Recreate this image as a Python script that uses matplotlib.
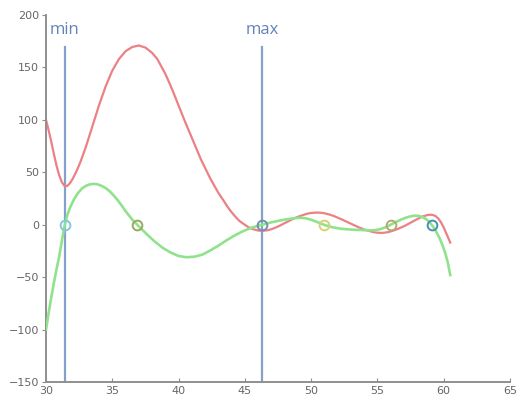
import matplotlib
matplotlib.use("Agg")
import matplotlib.pyplot as plt

# Red curve (function)
red_x = [30.0, 30.2, 30.4, 30.6, 30.8, 31.0, 31.2, 31.4, 31.6, 31.8, 32.0, 32.3,
         32.6, 33.0, 33.5, 34.0, 34.5, 35.0, 35.5, 36.0, 36.5, 37.0, 37.5, 38.0,
         38.4, 38.7, 39.0, 39.3, 39.6, 39.9, 40.5, 41.1, 41.7, 42.4, 43.0, 43.4,
         43.7, 44.0, 44.3, 44.6, 45.0, 45.3, 45.6, 46.0, 46.3, 46.7, 47.0, 47.4,
         47.7, 48.0, 48.4, 48.7, 49.0, 49.4, 49.7, 50.0, 50.4, 50.7, 51.0, 51.4,
         51.7, 52.0, 52.4, 52.7, 53.0, 53.4, 53.7, 54.0, 54.4, 54.7, 55.0, 55.3,
         55.6, 55.9, 56.2, 56.5, 56.8, 57.1, 57.4, 57.7, 58.0, 58.3, 58.5, 58.8,
         59.0, 59.2, 59.4, 59.6, 59.8, 60.0, 60.2, 60.35, 60.5]
red_y = [100, 90, 79, 67, 56, 47, 40.5, 37, 37, 39.5, 43.5, 51,
         60, 74, 94, 114, 132, 147, 158, 165.5, 169.5, 171, 169, 164,
         158, 151, 144, 135.5, 126.5, 117, 98, 80, 62, 44, 30.5, 23,
         17, 12, 7.5, 3.5, 0, -2.5, -4.2, -5.5, -5.8, -5.3, -4.3, -2.3,
         -0.5, 1.5, 4, 6, 7.5, 9.3, 10.5, 11.2, 11.6, 11.5, 11, 9.7,
         8.4, 6.8, 4.6, 2.8, 1, -1.3, -3, -4.5, -6, -7, -7.6, -7.8,
         -7.5, -6.8, -5.6, -4.2, -2.6, -0.9, 1.2, 3.3, 5.3, 7.2, 8.2, 9.3,
         9.6, 9.3, 8.2, 5.9, 2.4, -2.4, -8.2, -12.5, -17]

# Green curve (derivative)
green_x = [30.0, 30.2, 30.4, 30.6, 30.8, 31.0, 31.2, 31.4, 31.6, 31.8, 32.1, 32.4,
           32.7, 33.0, 33.3, 33.6, 33.9, 34.2, 34.5, 34.8, 35.1, 35.4, 35.7, 36.0,
           36.5, 37.0, 37.6, 38.2, 38.8, 39.4, 40.0, 40.6, 41.2, 41.8, 42.4, 43.0,
           43.6, 44.2, 44.8, 45.5, 46.3, 47.0, 47.6, 48.2, 48.8, 49.2, 49.6, 50.0,
           50.5, 51.0, 51.6, 52.3, 53.0, 53.7, 54.4, 54.8, 55.2, 55.6, 56.0, 56.4,
           56.8, 57.2, 57.5, 57.8, 58.1, 58.4, 58.7, 58.9, 59.1, 59.3, 59.5, 59.7,
           59.9, 60.1, 60.3, 60.5]
green_y = [-100, -84, -69, -55, -42, -30, -15, -1, 9, 16, 24, 30,
           34.5, 37, 38.5, 39, 38.5, 37, 35, 32, 28, 23.5, 18.5, 13,
           5, -1.5, -9, -16, -22, -26.5, -29.8, -31, -30.5, -28.5, -24.5, -20,
           -15, -10.5, -6.5, -2.8, 0, 2.3, 3.9, 5.3, 6.3, 6.6, 6.2, 4.8,
           2.4, -0.2, -2.4, -3.9, -4.6, -5, -5.4, -5.2, -4.3, -2.5, 0, 2.6,
           5, 6.9, 8, 8.6, 8.5, 7.4, 5.2, 3, 0, -3.5, -8, -13,
           -19, -26, -35, -48]

# Zero markers
zero_x = [31.4, 36.9, 46.3, 51.0, 56.0, 59.1]
zero_y = [0, 0, 0, 0, 0, 0]
zero_colors = ["#80c8de", "#9aa860", "#7090b0", "#d9d274", "#b3aa72", "#4691b0"]

# Extremum lines
ext_x = [31.4, 46.3]
ext_labels = ["min", "max"]

xticks = [30, 35, 40, 45, 50, 55, 60, 65]
yticks = [-150, -100, -50, 0, 50, 100, 150, 200]

fig = plt.figure(figsize=(5.2, 4.05), dpi=100)
ax = fig.add_axes([0.0885, 0.0568, 0.892, 0.906])

for xv, lab in zip(ext_x, ext_labels):
    ax.plot([xv, xv], [-150, 170], color="#86a0cc", lw=1.6, zorder=1)
    ax.text(xv, 186, lab, ha="center", va="center", color="#6384b8",
            fontsize=12, family=["Open Sans", "DejaVu Sans"])

ax.plot(red_x, red_y, color="#ec8084", lw=1.6, zorder=2)
ax.plot(green_x, green_y, color="#90e38c", lw=1.9, zorder=3)
for xv, yv, c in zip(zero_x, zero_y, zero_colors):
    ax.plot(xv, yv, "o", ms=7, mfc="none", mec=c, mew=1.4, zorder=4)

ax.set_xlim(30, 65)
ax.set_ylim(-150, 200)
ax.set_xticks(xticks)
ax.set_yticks(yticks)
for s in ["top", "right"]:
    ax.spines[s].set_visible(False)
for s in ["left", "bottom"]:
    ax.spines[s].set_color("#8f8f8f")
    ax.spines[s].set_linewidth(1.4)
ax.tick_params(axis="x", direction="in", length=3, colors="#8f8f8f",
               labelcolor="#666666", labelsize=8, pad=3)
ax.tick_params(axis="y", direction="out", length=3, colors="#8f8f8f",
               labelcolor="#666666", labelsize=8, pad=2)

fig.savefig("out.png", dpi=100)
